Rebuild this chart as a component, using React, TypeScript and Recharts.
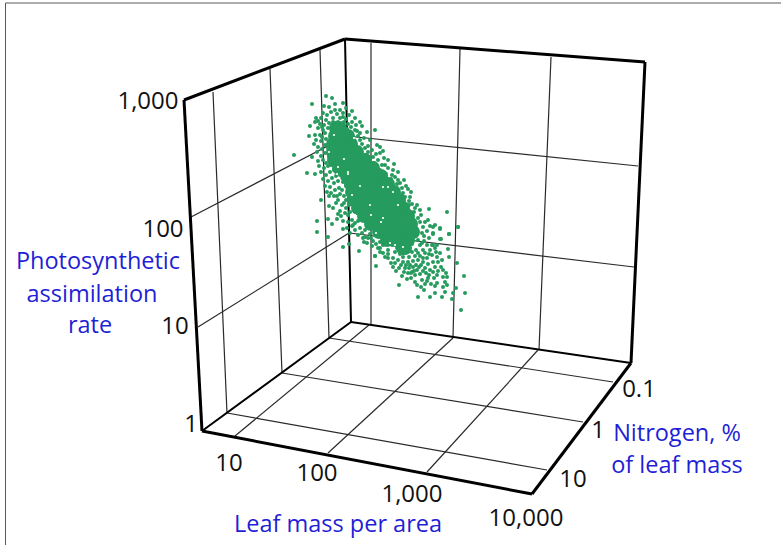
import React from 'react'
import { ScatterChart, Scatter, XAxis, YAxis, ReferenceLine, ReferenceDot } from 'recharts'

// Everything is stored in the projected plane of the picture: the cube is already flattened
type Pair = [number, number]
type Segment = [number, number, number, number]

const boxEdgesHeavy: Segment[] = [
    [184, 100, 345, 39], [345, 39, 645, 62], [645, 62, 631, 363], [184, 100, 202, 431],
    [202, 431, 532, 494], [532, 494, 631, 363]
]
const boxEdgesMedium: Segment[] = [
    [345, 39, 351, 322], [202, 431, 351, 322], [351, 322, 631, 363]
]
const gridLines: Segment[] = [
    // left wall
    [213, 92, 227, 413], [270, 69, 282, 373], [320, 50, 329, 338],
    [191, 217, 347, 136], [198, 327, 349, 233],
    // back wall
    [371, 43, 371, 325], [460, 49, 453, 338], [551, 57, 539, 350],
    [347, 136, 638, 166], [349, 233, 634, 267],
    // floor
    [227, 413, 547, 470], [282, 373, 583, 422], [329, 338, 613, 382],
    [235, 436, 369, 325], [328, 453, 453, 338], [427, 472, 538, 350]
]
const pageFrame: Segment[] = [[5.5, 3, 5.5, 545], [5.5, 3, 781, 3]]

const axisTicks: { text: string; x: number; y: number }[] = [
    { text: '1,000', x: 148, y: 100 }, { text: '100', x: 163, y: 228 },
    { text: '10', x: 175, y: 325 }, { text: '1', x: 191, y: 423 },
    { text: '10', x: 229, y: 462 }, { text: '100', x: 317, y: 472 },
    { text: '1,000', x: 412, y: 493 }, { text: '10,000', x: 526, y: 517 },
    { text: '0.1', x: 639, y: 388 }, { text: '1', x: 598, y: 429 }, { text: '10', x: 573, y: 478 }
]
const axisTitles: { text: string; x: number; y: number }[] = [
    { text: 'Photosynthetic', x: 98, y: 261 }, { text: 'assimilation', x: 92, y: 294 },
    { text: 'rate', x: 90, y: 325 }, { text: 'Leaf mass per area', x: 338, y: 524 },
    { text: 'Nitrogen, %', x: 677, y: 433 }, { text: 'of leaf mass', x: 677, y: 465 }
]

// The solid middle of the cloud, too overlapped to read single leaves
const denseCloud: Pair[] = [
    [336, 128], [340, 128], [335, 136], [342, 136], [348, 136], [333, 144], [341, 144], [349, 144], [351, 144],
    [333, 152], [341, 152], [349, 152], [357, 152], [334, 160], [342, 160], [350, 160], [358, 160], [365, 160],
    [339, 168], [347, 168], [355, 168], [363, 168], [373, 168], [347, 176], [355, 176], [363, 176], [371, 176], [381, 176],
    [351, 184], [359, 184], [367, 184], [375, 184], [383, 184], [388, 184],
    [352, 192], [360, 192], [368, 192], [376, 192], [384, 192], [394, 192],
    [354, 200], [362, 200], [370, 200], [378, 200], [386, 200], [394, 200], [399, 200],
    [358, 208], [366, 208], [374, 208], [382, 208], [390, 208], [398, 208], [403, 208],
    [364, 216], [372, 216], [380, 216], [388, 216], [396, 216], [404, 216], [408, 216],
    [371, 224], [379, 224], [387, 224], [395, 224], [403, 224], [411, 224],
    [379, 232], [387, 232], [395, 232], [403, 232], [413, 232],
    [387, 240], [395, 240], [403, 240], [408, 240], [403, 248], [405, 248]
]

// Small openings left between the overlapping dots
const cloudGaps: Pair[] = [
    [352, 195], [370, 205], [371, 215], [383, 218], [381, 222], [334, 135], [354, 138], [344, 159], [338, 167],
    [348, 172], [329, 152], [337, 174], [348, 174], [383, 187], [388, 187], [393, 192], [398, 205], [403, 247],
    [395, 245], [390, 243], [360, 186], [355, 215], [376, 233]
]

const topLeaves: Pair[] = [
    [326, 96], [332, 98], [312, 104], [343, 103], [335, 104], [324, 106], [329, 107], [352, 111],
    [335, 110], [340, 110], [323, 113], [316, 118], [315, 122], [310, 126], [346, 108], [331, 112],
    [327, 115], [337, 114], [343, 113], [349, 115], [355, 118], [321, 118], [326, 120], [333, 118],
    [340, 118], [346, 119], [352, 122], [320, 124], [360, 122], [348, 124], [344, 122], [329, 123],
    [324, 125], [356, 125], [333, 122], [338, 122], [318, 121], [342, 126], [351, 127], [328, 128],
    [322, 127], [355, 130], [332, 127], [347, 129], [343, 117]
]
const leftLeaves: Pair[] = [
    [309, 136], [315, 135], [314, 144], [294, 155], [307, 173], [315, 174], [312, 157], [318, 128],
    [323, 130], [320, 135], [325, 133], [316, 140], [321, 141], [326, 139], [318, 147], [322, 149],
    [325, 145], [317, 152], [321, 156], [325, 153], [318, 161], [323, 160], [326, 163], [319, 166],
    [324, 168], [328, 166], [321, 172], [326, 175], [330, 172], [323, 179], [328, 181], [332, 178],
    [336, 176], [325, 186], [330, 187], [334, 183], [338, 181], [327, 192], [331, 193], [335, 190],
    [329, 196], [334, 196], [339, 188], [321, 200], [329, 206], [333, 208], [340, 211], [342, 205],
    [338, 200], [345, 213], [343, 221], [317, 221], [317, 232], [328, 219], [332, 224], [328, 237],
    [343, 229], [343, 247], [349, 244], [359, 251], [364, 242], [363, 238], [375, 256], [352, 220],
    [355, 223], [357, 213], [349, 205], [353, 225], [347, 228], [355, 230], [360, 228], [365, 230],
    [370, 234], [377, 235], [382, 237], [387, 242], [392, 245], [397, 248], [383, 245], [388, 250],
    [380, 242], [378, 248], [344, 196], [346, 186], [340, 194], [336, 203], [344, 203], [348, 215],
    [338, 214], [350, 212], [358, 221], [362, 233], [350, 233], [368, 238], [373, 241], [376, 244],
    [322, 137], [328, 148], [329, 157], [331, 165], [334, 170], [340, 175], [343, 182], [342, 190],
    [337, 196], [346, 200], [341, 216], [346, 208], [352, 226], [348, 222], [358, 235], [367, 243],
    [372, 246], [380, 252], [385, 257], [365, 237], [371, 238], [337, 219]
]
const rightLeaves: Pair[] = [
    [375, 130], [367, 132], [362, 126], [370, 140], [365, 148], [377, 145], [380, 153], [383, 151],
    [373, 157], [388, 160], [378, 160], [382, 165], [393, 170], [388, 168], [398, 172], [395, 177],
    [404, 180], [400, 183], [402, 188], [408, 189], [410, 197], [405, 197], [360, 133], [357, 131],
    [364, 138], [360, 140], [368, 146], [372, 150], [376, 154], [366, 155], [384, 158], [380, 170],
    [386, 174], [391, 179], [397, 184], [412, 204], [417, 205], [414, 212], [421, 215], [409, 205],
    [429, 209], [447, 212], [458, 227], [449, 234], [428, 220], [435, 225], [420, 210], [440, 229],
    [433, 233], [441, 239], [423, 227], [425, 222], [418, 218], [429, 238], [420, 245], [427, 231],
    [433, 245], [416, 236], [424, 236], [412, 244], [362, 144], [358, 136], [368, 152], [374, 163],
    [385, 165], [392, 175], [398, 180], [403, 193], [409, 201], [415, 208], [420, 222], [422, 233],
    [418, 240], [424, 241], [430, 226], [415, 228], [406, 186], [411, 192], [394, 164], [380, 147]
]
const tailLeaves: Pair[] = [
    [458, 227], [449, 234], [440, 239], [433, 234], [440, 228], [433, 227], [448, 249], [449, 257],
    [457, 263], [464, 276], [465, 293], [461, 310], [456, 288], [453, 293], [452, 299], [445, 292],
    [442, 297], [435, 293], [430, 297], [418, 297], [424, 290], [399, 285], [376, 266], [375, 256],
    [447, 285], [443, 287], [437, 283], [431, 284], [437, 275], [446, 273], [443, 277], [447, 277],
    [445, 282], [417, 285], [415, 282], [425, 284], [427, 281], [428, 278], [422, 280], [420, 274],
    [415, 275], [411, 278], [408, 273], [402, 276], [396, 271], [393, 267], [399, 268], [405, 268],
    [409, 268], [413, 267], [419, 267], [425, 268], [430, 270], [435, 267], [441, 267], [443, 270],
    [438, 262], [433, 262], [428, 264], [423, 262], [418, 260], [413, 261], [408, 262], [403, 262],
    [398, 260], [393, 258], [388, 258], [388, 254], [383, 253], [380, 248], [403, 257], [409, 257],
    [415, 256], [420, 256], [427, 258], [432, 255], [437, 257], [442, 260], [430, 250], [435, 248],
    [423, 250], [427, 245], [422, 243], [437, 245], [432, 245], [416, 250], [412, 252], [395, 252],
    [400, 254], [391, 263], [404, 272], [414, 271], [426, 273], [434, 278], [418, 253], [425, 253],
    [410, 265], [421, 265], [416, 265], [406, 265], [401, 265], [395, 263], [436, 252], [429, 254],
    [440, 253], [423, 258], [411, 273], [417, 270], [423, 271], [433, 272], [438, 271], [429, 275],
    [435, 286], [421, 287], [412, 272], [407, 279]
]

const toPoints = (pairs: Pair[]) => pairs.map(([x, y]) => ({ x, y }))

const GREEN = '#259b5d'
const TITLE_BLUE = '#1f1fd6'

const drawSegments = (segments: Segment[], stroke: string, strokeWidth: number, name: string) =>
    segments.map(([x1, y1, x2, y2], i) => (
        <ReferenceLine
            key={`${name}-${i}`}
            segment={[{ x: x1, y: y1 }, { x: x2, y: y2 }]}
            stroke={stroke}
            strokeWidth={strokeWidth}
            ifOverflow="visible"
        />
    ))

const drawTexts = (items: { text: string; x: number; y: number }[], fill: string, size: number, name: string) =>
    items.map((item, i) => (
        <ReferenceDot
            key={`${name}-${i}`}
            x={item.x}
            y={item.y}
            r={0}
            fill="none"
            stroke="none"
            ifOverflow="visible"
            label={{
                value: item.text,
                position: 'center',
                fill,
                fontSize: size,
                fontFamily: '"Open Sans", sans-serif'
            }}
        />
    ))

export default function App() {
    return (
        <div style={{ position: 'absolute', left: 0, top: 0, width: 781, height: 545, background: '#fff' }}>
            <ScatterChart width={781} height={545} margin={{ top: 0, right: 0, bottom: 0, left: 0 }}>
                <XAxis type="number" dataKey="x" domain={[0, 781]} hide />
                <YAxis type="number" dataKey="y" domain={[0, 545]} reversed hide />
                {drawSegments(pageFrame, '#5a5a5a', 1, 'frame')}
                {drawSegments(gridLines, '#2a2a2a', 1.2, 'grid')}
                {drawSegments(boxEdgesMedium, '#000', 2, 'medium')}
                {drawSegments(boxEdgesHeavy, '#000', 3, 'heavy')}
                <Scatter
                    data={toPoints(denseCloud)}
                    isAnimationActive={false}
                    shape={(p: any) => <circle cx={p.cx} cy={p.cy} r={7} fill={GREEN} />}
                />
                <Scatter
                    data={toPoints([...topLeaves, ...leftLeaves, ...rightLeaves, ...tailLeaves])}
                    isAnimationActive={false}
                    shape={(p: any) => <circle cx={p.cx} cy={p.cy} r={2} fill={GREEN} />}
                />
                <Scatter
                    data={toPoints(cloudGaps)}
                    isAnimationActive={false}
                    shape={(p: any) => <circle cx={p.cx} cy={p.cy} r={1.1} fill="#ffffff" />}
                />
                {drawTexts(axisTicks, '#111', 24, 'tick')}
                {drawTexts(axisTitles, TITLE_BLUE, 23.5, 'title')}
            </ScatterChart>
        </div>
    )
}
